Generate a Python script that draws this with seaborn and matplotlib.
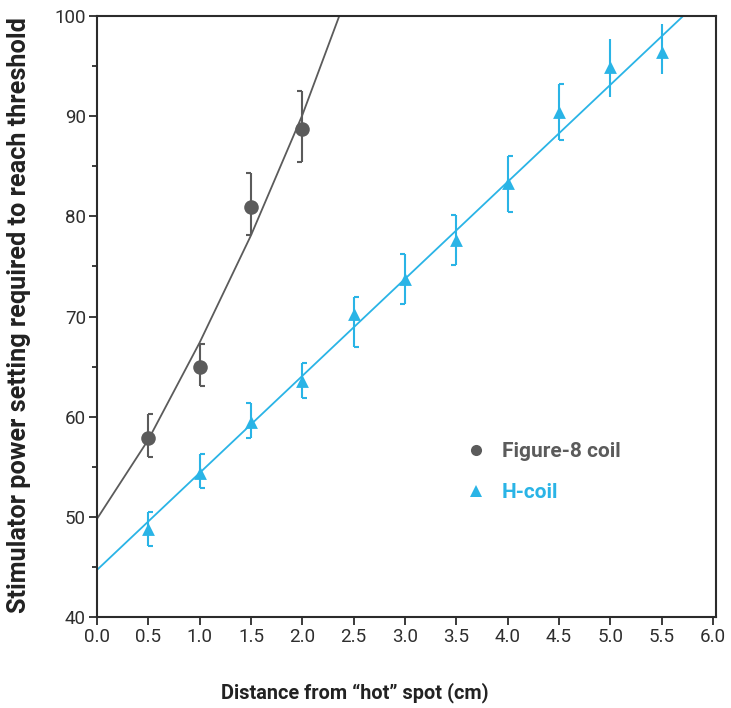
import matplotlib
matplotlib.use("Agg")
import matplotlib.pyplot as plt
import seaborn as sns
import pandas as pd
from matplotlib.lines import Line2D

# values
fig8_x = [0.5, 1.0, 1.5, 2.0]
fig8_y = [57.9, 65.0, 80.9, 88.7]
fig8_lo = [56.0, 63.1, 78.1, 85.4]
fig8_hi = [60.3, 67.3, 84.3, 92.5]
fig8_cap = ["r", "r", "l", "l"]

h_x = [0.5, 1.0, 1.5, 2.0, 2.5, 3.0, 3.5, 4.0, 4.5, 5.0, 5.5]
h_y = [48.8, 54.4, 59.5, 63.6, 70.2, 73.7, 77.6, 83.3, 90.4, 94.9, 96.4]
h_lo = [47.1, 52.9, 57.9, 61.9, 67.0, 71.2, 75.1, 80.4, 87.6, 91.9, 94.2]
h_hi = [50.5, 56.3, 61.4, 65.4, 71.9, 76.2, 80.1, 86.0, 93.2, 97.7, 99.2]
h_cap = ["r", "r", "l", "r", "r", "l", "l", "r", "r", "", ""]

# fitted curves
fig8_fit_x = [0.0, 0.5, 1.0, 1.5, 2.0, 2.36]
fig8_fit_y = [49.8, 57.7, 67.4, 78.1, 90.1, 100.0]
h_fit_x = [0.0, 5.71]
h_fit_y = [44.7, 100.0]

x_ticks = [0.0, 0.5, 1.0, 1.5, 2.0, 2.5, 3.0, 3.5, 4.0, 4.5, 5.0, 5.5, 6.0]
y_ticks = [40, 50, 60, 70, 80, 90, 100]

GREY = "#5b5b5b"
CYAN = "#2ab4e6"
AXC = "#2b2b2b"

sns.set_theme(style="ticks")
plt.rcParams["font.family"] = ["Roboto", "DejaVu Sans"]

fig = plt.figure(figsize=(7.31, 7.08), dpi=100)
ax = fig.add_axes([97 / 731, 91 / 708, 619 / 731, 601 / 708])

# half caps like "[" / "]"
cap_r = [(0, 0), (1, 0)]
cap_l = [(0, 0), (-1, 0)]


def draw_series(x, y, lo, hi, caps, color, marker, ms, fit_x, fit_y):
    sns.lineplot(x=fit_x, y=fit_y, ax=ax, color=color, lw=1.3, sort=False)
    err = [[a - b for a, b in zip(y, lo)], [b - a for a, b in zip(y, hi)]]
    ax.errorbar(x, y, yerr=err, fmt="none", ecolor=color, elinewidth=1.5, capsize=0)
    for side, mk in (("r", cap_r), ("l", cap_l)):
        xs = [a for a, c in zip(x, caps) if c == side]
        lo_side = [v for v, c in zip(lo, caps) if c == side]
        hi_side = [v for v, c in zip(hi, caps) if c == side]
        ax.plot(xs + xs, lo_side + hi_side, ls="none", marker=mk, ms=7,
                mew=1.5, color=color)
    df = pd.DataFrame({"x": x, "y": y})
    sns.scatterplot(data=df, x="x", y="y", ax=ax, color=color, marker=marker,
                    s=ms, linewidth=0, zorder=5)


draw_series(fig8_x, fig8_y, fig8_lo, fig8_hi, fig8_cap, GREY, "o", 110,
            fig8_fit_x, fig8_fit_y)
draw_series(h_x, h_y, h_lo, h_hi, h_cap, CYAN, "^", 85,
            h_fit_x, h_fit_y)

ax.set_xlim(0, 6.03)
ax.set_ylim(40, 100)
ax.set_xticks(x_ticks)
ax.set_xticklabels([f"{t:.1f}" for t in x_ticks])
ax.set_yticks(y_ticks)
ax.set_yticks(range(45, 100, 10), minor=True)
ax.tick_params(axis="both", which="major", direction="out", length=6,
               width=1.3, color=AXC, labelsize=13.5, labelcolor="#2e2e2e", pad=2)
ax.tick_params(axis="y", which="minor", direction="out", length=3.6, width=1.3, color=AXC)
for sp in ax.spines.values():
    sp.set_color(AXC)
    sp.set_linewidth(1.5)

ax.set_xlabel("Distance from \u201chot\u201d spot (cm)", fontsize=14.3,
              fontweight="bold", color="#222222")
ax.xaxis.set_label_coords(0.417, -0.108)
ax.set_ylabel("Stimulator power setting required to reach threshold", fontsize=18.2,
              fontweight="bold", color="#222222")
ax.yaxis.set_label_coords(-0.107, 0.502)

handles = [
    Line2D([], [], ls="none", marker="o", ms=8, color=GREY, mew=0),
    Line2D([], [], ls="none", marker="^", ms=9, color=CYAN, mew=0),
]
leg = ax.legend(handles, ["Figure-8 coil", "H-coil"], loc="upper left",
                bbox_to_anchor=(0.565, 0.322), frameon=False, handlelength=1.0,
                handletextpad=0.75, labelspacing=1.05,
                prop={"weight": "bold", "size": 15})
for txt, c in zip(leg.get_texts(), [GREY, CYAN]):
    txt.set_color(c)

fig.savefig("out.png", dpi=100)
